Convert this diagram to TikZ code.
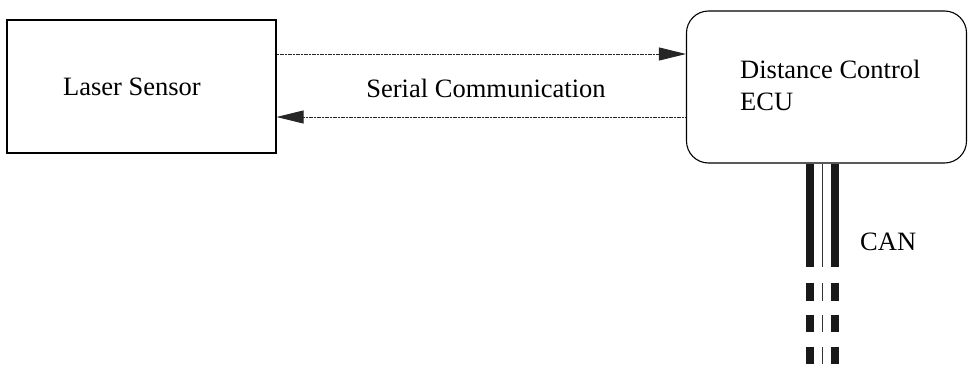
\documentclass[tikz,border=0pt]{standalone}
\usepackage{fontspec}
\setmainfont{Liberation Serif}
\usetikzlibrary{arrows.meta,calc}
\begin{document}
\begin{tikzpicture}[x=1pt,y=-1pt,
  box/.style={draw=black,line width=1.1pt,inner sep=0pt},
  lbl/.style={font=\fontsize{26.5}{32}\selectfont,inner sep=0pt},
  sig/.style={draw=black!85,line width=0.9pt,dash pattern=on 1.2pt off 0.4pt,-{Triangle[length=27pt,width=13pt]}},
  thickbus/.style={line width=8pt,draw=black!90},
  thinbus/.style={line width=1.2pt,draw=black!80}]
\useasboundingbox (0,0) rectangle (968,375);
\node[box,minimum width=269pt,minimum height=133pt] (laser) at (141.5,86.5) {};
\node[lbl] (lasertxt) at (132,87) {Laser Sensor};
\node[box,rounded corners=22pt,minimum width=280pt,minimum height=152pt] (ecu) at (826.5,87) {};
\node[lbl,anchor=base west] (ecutxt1) at (740,78) {Distance Control};
\node[lbl,anchor=base west] (ecutxt2) at (740,110) {ECU};
\node[lbl] (ser) at (486,88) {Serial Communication};
\node[lbl,anchor=base west] (can) at (860,250) {CAN};
\coordinate (y1) at (0,54);
\coordinate (y2) at (0,117);
\draw[sig] (laser.east |- y1) -- (ecu.west |- y1);
\draw[sig] (ecu.west |- y2) -- (laser.east |- y2);
% CAN bus
\coordinate (b1) at (809.5,0);
\coordinate (b2) at (822.5,0);
\coordinate (b3) at (834.5,0);
\coordinate (bend) at (0,267);
\draw[thickbus] (ecu.south -| b1) -- (bend -| b1);
\draw[thinbus] (ecu.south -| b2) -- (bend -| b2);
\draw[thickbus] (ecu.south -| b3) -- (bend -| b3);
\foreach \ya/\yb in {283/301,315/332,347/364}{
  \draw[thickbus] (809.5,\ya) -- (809.5,\yb);
  \draw[thinbus] (822.5,\ya) -- (822.5,\yb);
  \draw[thickbus] (834.5,\ya) -- (834.5,\yb);
}
\end{tikzpicture}
\end{document}
